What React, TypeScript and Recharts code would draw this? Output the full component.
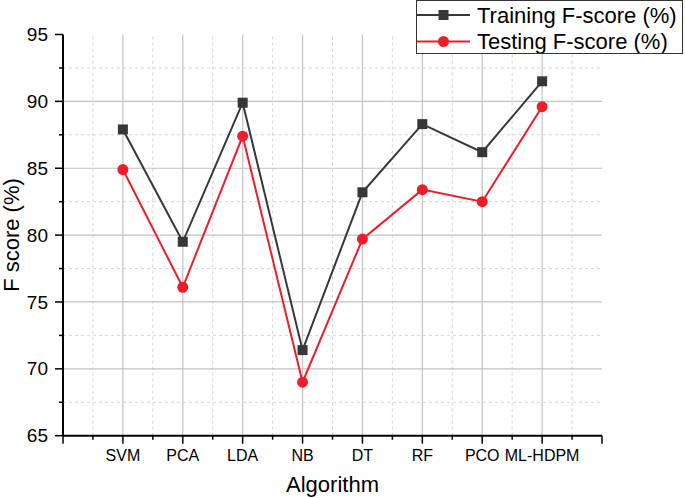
import React from 'react';
import { LineChart, Line, XAxis, YAxis, ReferenceLine, Label } from 'recharts';

const categories = ['SVM', 'PCA', 'LDA', 'NB', 'DT', 'RF', 'PCO', 'ML-HDPM'];
const trainingFScore = [87.9, 79.5, 89.9, 71.4, 83.2, 88.3, 86.2, 91.5];
const testingFScore = [84.9, 76.1, 87.4, 69.0, 79.7, 83.4, 82.5, 89.6];
const seriesNames = ['Training F-score (%)', 'Testing F-score (%)'];
const xTicks = [0, 0.5, 1, 1.5, 2, 2.5, 3, 3.5, 4, 4.5, 5, 5.5, 6, 6.5, 7, 7.5, 8, 8.5, 9];
const yTicks = [65, 67.5, 70, 72.5, 75, 77.5, 80, 82.5, 85, 87.5, 90, 92.5, 95];
const xMajorGrid = [1, 2, 3, 4, 5, 6, 7, 8];
const xMinorGrid = [0.5, 1.5, 2.5, 3.5, 4.5, 5.5, 6.5, 7.5, 8.5];
const yMajorGrid = [70, 75, 80, 85, 90];
const yMinorGrid = [67.5, 72.5, 77.5, 82.5, 87.5, 92.5];

const FONT = '"Liberation Sans", Arial, Helvetica, sans-serif';
const TRAIN_COLOR = '#373737';
const TEST_COLOR = '#ef1d26';

const data = categories.map((name, i) => ({
  pos: i + 1,
  name,
  training: trainingFScore[i],
  testing: testingFScore[i],
}));

const XTick = (props: any) => {
  const { x, y, payload } = props;
  const v = payload.value as number;
  const major = Number.isInteger(v);
  const label = v >= 1 && v <= categories.length && major ? categories[v - 1] : '';
  return (
    <g>
      <line x1={x} x2={x} y1={y} y2={y + (major ? 8 : 4)} stroke="#000" strokeWidth={1.5} />
      {label && (
        <text x={x} y={y + 25.5} textAnchor="middle" fontSize={16} fontFamily={FONT} fill="#000">
          {label}
        </text>
      )}
    </g>
  );
};

const YTick = (props: any) => {
  const { x, y, payload } = props;
  const v = payload.value as number;
  const major = v % 5 === 0;
  return (
    <g>
      <line x1={x} x2={x - (major ? 8 : 4)} y1={y} y2={y} stroke="#000" strokeWidth={1.5} />
      {major && (
        <text x={x - 15} y={y} dy="0.35em" textAnchor="end" fontSize={19} fontFamily={FONT} fill="#000">
          {v}
        </text>
      )}
    </g>
  );
};

const SquareDot = (props: any) => {
  const { cx, cy } = props;
  if (cx == null || cy == null) return null;
  return <rect x={cx - 5} y={cy - 5} width={10} height={10} fill={TRAIN_COLOR} />;
};

const CircleDot = (props: any) => {
  const { cx, cy } = props;
  if (cx == null || cy == null) return null;
  return <circle cx={cx} cy={cy} r={5.5} fill={TEST_COLOR} />;
};

const LegendBox = () => (
  <div
    style={{
      position: 'absolute',
      left: 416,
      top: 0,
      width: 267,
      height: 54,
      border: '1px solid #333',
      background: '#fff',
      boxSizing: 'border-box',
    }}
  >
    <svg width={265} height={52} style={{ display: 'block' }}>
      <line x1={0} x2={53} y1={14} y2={14} stroke={TRAIN_COLOR} strokeWidth={2} />
      <rect x={21.5} y={9} width={10} height={10} fill={TRAIN_COLOR} />
      <text x={60} y={14} dy="0.35em" fontSize={22} fontFamily={FONT} fill="#000">
        {seriesNames[0]}
      </text>
      <line x1={0} x2={53} y1={40.5} y2={40.5} stroke={TEST_COLOR} strokeWidth={2} />
      <circle cx={26.5} cy={40.5} r={5.5} fill={TEST_COLOR} />
      <text x={60} y={40.5} dy="0.35em" fontSize={22} fontFamily={FONT} fill="#000">
        {seriesNames[1]}
      </text>
    </svg>
  </div>
);

export default function App() {
  return (
    <div style={{ position: 'absolute', left: 0, top: 0, width: 685, height: 498, background: '#fff' }}>
      <LineChart
        width={685}
        height={498}
        data={data}
        margin={{ top: 34.5, right: 83, bottom: 0, left: 0 }}
      >
        {yMinorGrid.map((v) => (
          <ReferenceLine key={'ym' + v} y={v} stroke="#d6d6d6" strokeDasharray="3 3" strokeWidth={1} />
        ))}
        {xMinorGrid.map((v) => (
          <ReferenceLine key={'xm' + v} x={v} stroke="#d6d6d6" strokeDasharray="3 3" strokeWidth={1} />
        ))}
        {yMajorGrid.map((v) => (
          <ReferenceLine key={'yM' + v} y={v} stroke="#c2c2c2" strokeWidth={1.2} />
        ))}
        {xMajorGrid.map((v) => (
          <ReferenceLine key={'xM' + v} x={v} stroke="#c2c2c2" strokeWidth={1.2} />
        ))}
        <XAxis
          dataKey="pos"
          type="number"
          domain={[0, 9]}
          ticks={xTicks}
          interval={0}
          height={62.3}
          axisLine={{ stroke: '#000', strokeWidth: 2 }}
          tickLine={false}
          tickSize={0}
          tickMargin={0}
          tick={<XTick />}
        >
          <Label
            value="Algorithm"
            position="insideBottom"
            offset={6}
            fontSize={22}
            fontFamily={FONT}
            fill="#000"
          />
        </XAxis>
        <YAxis
          type="number"
          domain={[65, 95]}
          ticks={yTicks}
          interval={0}
          width={63}
          axisLine={{ stroke: '#000', strokeWidth: 2 }}
          tickLine={false}
          tickSize={0}
          tickMargin={0}
          tick={<YTick />}
        >
          <Label
            content={() => (
              <text
                x={19}
                y={235}
                transform="rotate(-90 19 235)"
                textAnchor="middle"
                fontSize={22}
                fontFamily={FONT}
                fill="#000"
              >
                F score (%)
              </text>
            )}
          />
        </YAxis>
        <Line
          type="linear"
          dataKey="training"
          name={seriesNames[0]}
          stroke={TRAIN_COLOR}
          strokeWidth={2}
          dot={<SquareDot />}
          activeDot={false}
          isAnimationActive={false}
        />
        <Line
          type="linear"
          dataKey="testing"
          name={seriesNames[1]}
          stroke={TEST_COLOR}
          strokeWidth={2}
          dot={<CircleDot />}
          activeDot={false}
          isAnimationActive={false}
        />
      </LineChart>
      <LegendBox />
    </div>
  );
}
